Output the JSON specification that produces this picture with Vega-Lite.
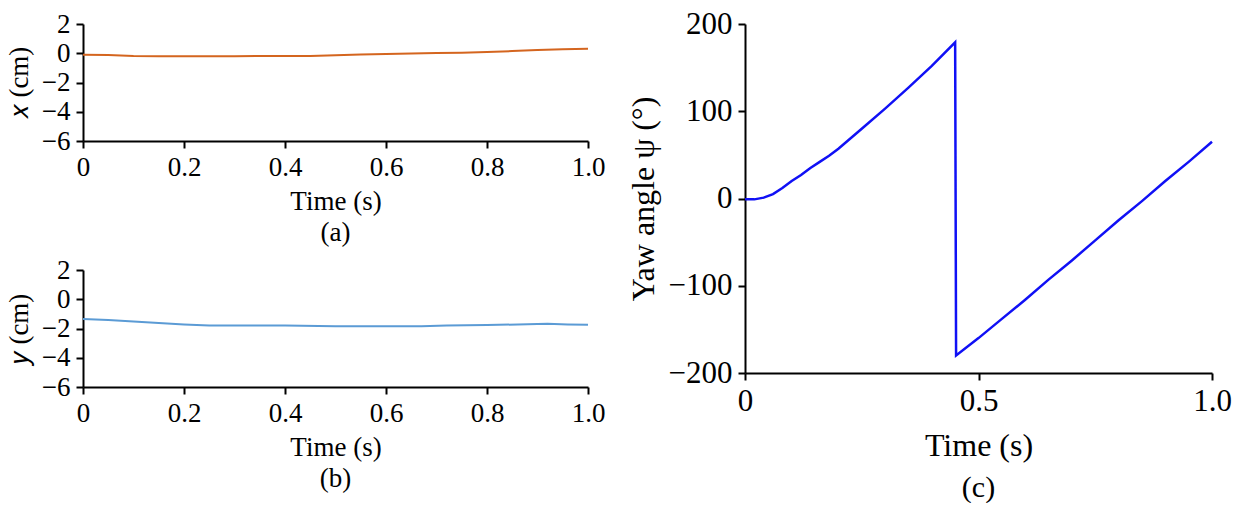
{
  "$schema": "https://vega.github.io/schema/vega-lite/v6.json",
  "background": "white",
  "padding": {"left": 5, "top": 8, "right": 5, "bottom": 0},
  "datasets": {
    "xpos": [
      {"t": 0, "v": -0.1}, {"t": 0.05, "v": -0.12}, {"t": 0.1, "v": -0.18},
      {"t": 0.15, "v": -0.2}, {"t": 0.2, "v": -0.2}, {"t": 0.3, "v": -0.2},
      {"t": 0.4, "v": -0.19}, {"t": 0.45, "v": -0.18}, {"t": 0.5, "v": -0.13},
      {"t": 0.55, "v": -0.08}, {"t": 0.6, "v": -0.05}, {"t": 0.65, "v": -0.02},
      {"t": 0.7, "v": 0.01}, {"t": 0.75, "v": 0.04}, {"t": 0.8, "v": 0.09},
      {"t": 0.85, "v": 0.15}, {"t": 0.9, "v": 0.23}, {"t": 0.95, "v": 0.28},
      {"t": 1.0, "v": 0.3}
    ],
    "ypos": [
      {"t": 0, "v": -1.35}, {"t": 0.05, "v": -1.42}, {"t": 0.1, "v": -1.52},
      {"t": 0.15, "v": -1.62}, {"t": 0.2, "v": -1.72}, {"t": 0.25, "v": -1.8},
      {"t": 0.3, "v": -1.8}, {"t": 0.4, "v": -1.8}, {"t": 0.5, "v": -1.85},
      {"t": 0.6, "v": -1.85}, {"t": 0.67, "v": -1.85}, {"t": 0.72, "v": -1.8},
      {"t": 0.8, "v": -1.76}, {"t": 0.9, "v": -1.7}, {"t": 0.92, "v": -1.68},
      {"t": 0.96, "v": -1.72}, {"t": 1.0, "v": -1.75}
    ],
    "yaw": [
      {"t": 0, "v": -1}, {"t": 0.02, "v": -1}, {"t": 0.04, "v": 1},
      {"t": 0.06, "v": 5}, {"t": 0.08, "v": 12}, {"t": 0.1, "v": 20},
      {"t": 0.12, "v": 27}, {"t": 0.14, "v": 35}, {"t": 0.16, "v": 42},
      {"t": 0.18, "v": 49}, {"t": 0.2, "v": 57}, {"t": 0.25, "v": 80},
      {"t": 0.3, "v": 103}, {"t": 0.35, "v": 127}, {"t": 0.4, "v": 152},
      {"t": 0.45, "v": 179}, {"t": 0.452, "v": -180}, {"t": 0.5, "v": -160},
      {"t": 0.55, "v": -138}, {"t": 0.6, "v": -116}, {"t": 0.65, "v": -93},
      {"t": 0.7, "v": -71}, {"t": 0.75, "v": -48}, {"t": 0.8, "v": -25},
      {"t": 0.85, "v": -3}, {"t": 0.9, "v": 20}, {"t": 0.95, "v": 42},
      {"t": 1.0, "v": 65}
    ]
  },
  "hconcat": [
    {
      "spacing": 10,
      "vconcat": [
        {
          "data": {"name": "xpos"},
          "width": 505,
          "height": 117,
          "title": {"text": "(a)", "orient": "bottom", "fontSize": 27, "offset": 6},
          "mark": {"type": "line", "color": "#d4651f", "strokeWidth": 2},
          "encoding": {
            "x": {
              "field": "t", "type": "quantitative",
              "scale": {"domain": [0, 1], "nice": false},
              "axis": {"title": "Time (s)", "values": [0, 0.2, 0.4, 0.6, 0.8, 1.0],
                "labelExpr": "datum.value == 0 ? '0' : format(datum.value, '.1f')"}
            },
            "y": {
              "field": "v", "type": "quantitative",
              "scale": {"domain": [-6, 2], "nice": false},
              "axis": {"title": "𝑥 (cm)", "values": [-6, -4, -2, 0, 2]}
            }
          }
        },
        {
          "data": {"name": "ypos"},
          "width": 505,
          "height": 117,
          "title": {"text": "(b)", "orient": "bottom", "fontSize": 27, "offset": 6},
          "mark": {"type": "line", "color": "#5b9bd5", "strokeWidth": 2},
          "encoding": {
            "x": {
              "field": "t", "type": "quantitative",
              "scale": {"domain": [0, 1], "nice": false},
              "axis": {"title": "Time (s)", "values": [0, 0.2, 0.4, 0.6, 0.8, 1.0],
                "labelExpr": "datum.value == 0 ? '0' : format(datum.value, '.1f')"}
            },
            "y": {
              "field": "v", "type": "quantitative",
              "scale": {"domain": [-6, 2], "nice": false},
              "axis": {"title": "𝑦 (cm)", "values": [-6, -4, -2, 0, 2]}
            }
          }
        }
      ]
    },
    {
      "data": {"name": "yaw"},
      "width": 467,
      "height": 349,
      "title": {"text": "(c)", "orient": "bottom", "fontSize": 30, "offset": 12},
      "mark": {"type": "line", "color": "#1010f5", "strokeWidth": 2.5},
      "encoding": {
        "x": {
          "field": "t", "type": "quantitative",
          "scale": {"domain": [0, 1], "nice": false},
          "axis": {"title": "Time (s)", "values": [0, 0.5, 1.0], "labelFontSize": 31, "titleFontSize": 32,
            "titlePadding": 14,
            "labelExpr": "datum.value == 0 ? '0' : format(datum.value, '.1f')"}
        },
        "y": {
          "field": "v", "type": "quantitative",
          "scale": {"domain": [-200, 200], "nice": false},
          "axis": {"title": "Yaw angle ψ (°)", "values": [-200, -100, 0, 100, 200], "labelFontSize": 31, "titleFontSize": 32}
        }
      }
    }
  ],
  "spacing": 22,
  "config": {
    "view": {"stroke": null},
    "font": "Liberation Serif",
    "title": {"font": "Liberation Serif", "fontWeight": "normal", "color": "black"},
    "axis": {
      "grid": false,
      "domainColor": "black",
      "domainWidth": 2,
      "tickColor": "black",
      "tickWidth": 2,
      "tickSize": 7,
      "labelFont": "Liberation Serif",
      "labelFontSize": 27,
      "labelColor": "black",
      "labelPadding": 6,
      "labelFlush": false,
      "labelOverlap": false,
      "titleFont": "Liberation Serif",
      "titleFontSize": 27,
      "titleFontWeight": "normal",
      "titleColor": "black",
      "titlePadding": 8
    }
  }
}
